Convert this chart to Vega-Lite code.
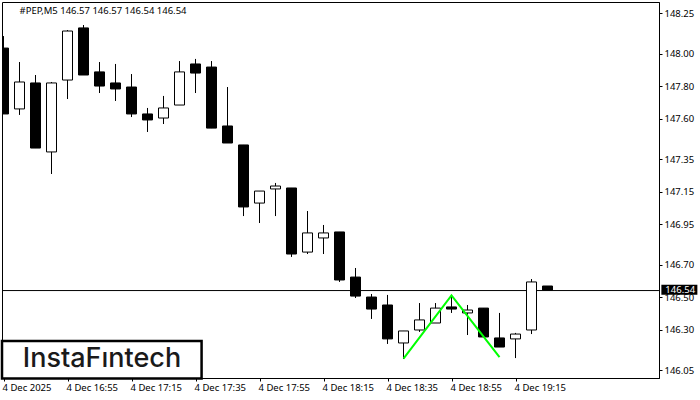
{
  "$schema": "https://vega.github.io/schema/vega-lite/v6.json",
  "width": 657,
  "height": 376,
  "autosize": {"type": "none"},
  "padding": {"left": 2, "top": 2, "right": 41, "bottom": 22},
  "background": "white",
  "datasets": {
    "candles": [
      {"t": "2025-12-04T16:35:00Z", "o": 148.034, "h": 148.108, "l": 147.628, "c": 147.628},
      {"t": "2025-12-04T16:40:00Z", "o": 147.659, "h": 147.948, "l": 147.622, "c": 147.825},
      {"t": "2025-12-04T16:45:00Z", "o": 147.819, "h": 147.868, "l": 147.418, "c": 147.418},
      {"t": "2025-12-04T16:50:00Z", "o": 147.394, "h": 147.825, "l": 147.258, "c": 147.819},
      {"t": "2025-12-04T16:55:00Z", "o": 147.837, "h": 148.145, "l": 147.72, "c": 148.139},
      {"t": "2025-12-04T17:00:00Z", "o": 148.158, "h": 148.176, "l": 147.868, "c": 147.868},
      {"t": "2025-12-04T17:05:00Z", "o": 147.887, "h": 147.948, "l": 147.757, "c": 147.8},
      {"t": "2025-12-04T17:10:00Z", "o": 147.819, "h": 147.936, "l": 147.708, "c": 147.782},
      {"t": "2025-12-04T17:15:00Z", "o": 147.794, "h": 147.874, "l": 147.609, "c": 147.628},
      {"t": "2025-12-04T17:20:00Z", "o": 147.628, "h": 147.665, "l": 147.517, "c": 147.591},
      {"t": "2025-12-04T17:25:00Z", "o": 147.603, "h": 147.739, "l": 147.566, "c": 147.665},
      {"t": "2025-12-04T17:30:00Z", "o": 147.683, "h": 147.954, "l": 147.683, "c": 147.887},
      {"t": "2025-12-04T17:35:00Z", "o": 147.936, "h": 147.967, "l": 147.757, "c": 147.88},
      {"t": "2025-12-04T17:40:00Z", "o": 147.917, "h": 147.954, "l": 147.541, "c": 147.541},
      {"t": "2025-12-04T17:45:00Z", "o": 147.554, "h": 147.794, "l": 147.449, "c": 147.449},
      {"t": "2025-12-04T17:50:00Z", "o": 147.437, "h": 147.437, "l": 146.999, "c": 147.055},
      {"t": "2025-12-04T17:55:00Z", "o": 147.079, "h": 147.153, "l": 146.956, "c": 147.153},
      {"t": "2025-12-04T18:00:00Z", "o": 147.166, "h": 147.203, "l": 146.999, "c": 147.184},
      {"t": "2025-12-04T18:05:00Z", "o": 147.172, "h": 147.172, "l": 146.747, "c": 146.765},
      {"t": "2025-12-04T18:10:00Z", "o": 146.777, "h": 147.03, "l": 146.765, "c": 146.895},
      {"t": "2025-12-04T18:15:00Z", "o": 146.864, "h": 146.944, "l": 146.765, "c": 146.895},
      {"t": "2025-12-04T18:20:00Z", "o": 146.901, "h": 146.901, "l": 146.593, "c": 146.605},
      {"t": "2025-12-04T18:25:00Z", "o": 146.623, "h": 146.679, "l": 146.494, "c": 146.506},
      {"t": "2025-12-04T18:30:00Z", "o": 146.5, "h": 146.519, "l": 146.365, "c": 146.426},
      {"t": "2025-12-04T18:35:00Z", "o": 146.451, "h": 146.513, "l": 146.211, "c": 146.242},
      {"t": "2025-12-04T18:40:00Z", "o": 146.217, "h": 146.291, "l": 146.118, "c": 146.291},
      {"t": "2025-12-04T18:45:00Z", "o": 146.297, "h": 146.463, "l": 146.285, "c": 146.359},
      {"t": "2025-12-04T18:50:00Z", "o": 146.34, "h": 146.463, "l": 146.34, "c": 146.432},
      {"t": "2025-12-04T18:55:00Z", "o": 146.439, "h": 146.513, "l": 146.402, "c": 146.426},
      {"t": "2025-12-04T19:00:00Z", "o": 146.402, "h": 146.451, "l": 146.266, "c": 146.42},
      {"t": "2025-12-04T19:05:00Z", "o": 146.432, "h": 146.432, "l": 146.254, "c": 146.254},
      {"t": "2025-12-04T19:10:00Z", "o": 146.248, "h": 146.402, "l": 146.192, "c": 146.192},
      {"t": "2025-12-04T19:15:00Z", "o": 146.242, "h": 146.279, "l": 146.124, "c": 146.272},
      {"t": "2025-12-04T19:20:00Z", "o": 146.297, "h": 146.611, "l": 146.272, "c": 146.593},
      {"t": "2025-12-04T19:25:00Z", "o": 146.568, "h": 146.568, "l": 146.543, "c": 146.543}
    ],
    "pattern": [
      {"t": "2025-12-04T18:40:00Z", "p": 146.121},
      {"t": "2025-12-04T18:55:00Z", "p": 146.51},
      {"t": "2025-12-04T19:10:00Z", "p": 146.13}
    ]
  },
  "encoding": {
    "x": {
      "field": "t",
      "type": "temporal",
      "scale": {
        "type": "utc",
        "nice": false,
        "padding": 0,
        "domain": [
          {"utc": true, "year": 2025, "month": 12, "date": 4, "hours": 16, "minutes": 34, "seconds": 31, "milliseconds": 875},
          {"utc": true, "year": 2025, "month": 12, "date": 4, "hours": 19, "minutes": 59, "seconds": 50, "milliseconds": 625}
        ]
      },
      "axis": {
        "values": [
          {"utc": true, "year": 2025, "month": 12, "date": 4, "hours": 16, "minutes": 35},
          {"utc": true, "year": 2025, "month": 12, "date": 4, "hours": 16, "minutes": 55},
          {"utc": true, "year": 2025, "month": 12, "date": 4, "hours": 17, "minutes": 15},
          {"utc": true, "year": 2025, "month": 12, "date": 4, "hours": 17, "minutes": 35},
          {"utc": true, "year": 2025, "month": 12, "date": 4, "hours": 17, "minutes": 55},
          {"utc": true, "year": 2025, "month": 12, "date": 4, "hours": 18, "minutes": 15},
          {"utc": true, "year": 2025, "month": 12, "date": 4, "hours": 18, "minutes": 35},
          {"utc": true, "year": 2025, "month": 12, "date": 4, "hours": 18, "minutes": 55},
          {"utc": true, "year": 2025, "month": 12, "date": 4, "hours": 19, "minutes": 15}
        ],
        "labelExpr": "utcFormat(datum.value, '%H:%M') == '16:35' ? '4 Dec 2025' : utcFormat(datum.value, '%-d %b %H:%M')",
        "labelAlign": "left",
        "labelBaseline": "top",
        "labelFlush": false,
        "labelOverlap": false,
        "labelOffset": -1.5,
        "labelPadding": 1
      }
    },
    "y": {
      "field": "p",
      "type": "quantitative",
      "scale": {"domain": [146.0012, 148.3178], "zero": false, "nice": false},
      "axis": {
        "orient": "right",
        "values": [148.25, 148, 147.8, 147.6, 147.35, 147.15, 146.95, 146.7, 146.5, 146.3, 146.05],
        "format": ".2f",
        "labelPadding": 2
      }
    }
  },
  "layer": [
    {
      "data": {"values": [{"t": "2025-12-04T16:34:32Z", "t2": "2025-12-04T19:59:50Z", "p": 146.54}]},
      "mark": {"type": "rule", "color": "black", "strokeWidth": 1},
      "encoding": {"x2": {"field": "t2"}}
    },
    {
      "data": {"name": "candles"},
      "mark": {"type": "rule", "color": "black", "strokeWidth": 1, "clip": true},
      "encoding": {
        "y": {"field": "h", "type": "quantitative", "scale": {"domain": [146.0012, 148.3178], "zero": false, "nice": false}},
        "y2": {"field": "l"}
      }
    },
    {
      "data": {"name": "candles"},
      "mark": {"type": "bar", "size": 10, "stroke": "black", "strokeWidth": 1, "clip": true},
      "encoding": {
        "y": {"field": "o", "type": "quantitative", "scale": {"domain": [146.0012, 148.3178], "zero": false, "nice": false}},
        "y2": {"field": "c"},
        "fill": {"condition": {"test": "datum.c > datum.o", "value": "white"}, "value": "black"}
      }
    },
    {
      "data": {"name": "pattern"},
      "mark": {"type": "line", "color": "#00ff00", "strokeWidth": 2}
    },
    {
      "data": {"values": [{"t": "2025-12-04T16:34:32Z", "t2": "2025-12-04T17:36:54Z", "p": 146.229, "p2": 145.998}]},
      "mark": {"type": "rect", "fill": "white", "stroke": "black", "strokeWidth": 2.5},
      "encoding": {"x2": {"field": "t2"}, "y2": {"field": "p2"}}
    },
    {
      "data": {"values": [{"t": "2025-12-04T17:05:47Z", "p": 146.118, "label": "InstaFıntech"}]},
      "mark": {"type": "text", "font": "Inter", "fontSize": 27, "fontWeight": 500, "color": "#1a1a1a", "align": "center", "baseline": "middle"},
      "encoding": {"text": {"field": "label"}}
    },
    {
      "data": {"values": [{"t": "2025-12-04T16:40:00Z", "p": 148.262, "label": "#PEP,M5  146.57 146.57 146.54 146.54"}]},
      "mark": {"type": "text", "font": "Noto Sans", "fontSize": 9.5, "color": "black", "align": "left", "baseline": "middle"},
      "encoding": {"text": {"field": "label"}}
    },
    {
      "data": {"values": [{"t": "2025-12-04T20:00:35Z", "t2": "2025-12-04T20:11:50Z", "p": 146.575, "p2": 146.514}]},
      "mark": {"type": "rect", "fill": "black"},
      "encoding": {"x2": {"field": "t2"}, "y2": {"field": "p2"}}
    },
    {
      "data": {"values": [{"t": "2025-12-04T20:01:50Z", "p": 146.545, "label": "146.54"}]},
      "mark": {"type": "text", "font": "Noto Sans", "fontSize": 9.5, "color": "white", "align": "left", "baseline": "middle"},
      "encoding": {"text": {"field": "label"}}
    }
  ],
  "config": {
    "view": {"stroke": "black", "strokeWidth": 1},
    "axis": {
      "title": null,
      "grid": false,
      "domainColor": "black",
      "tickColor": "black",
      "tickSize": 3,
      "labelColor": "black",
      "labelFont": "Noto Sans",
      "labelFontSize": 9.5
    }
  }
}
